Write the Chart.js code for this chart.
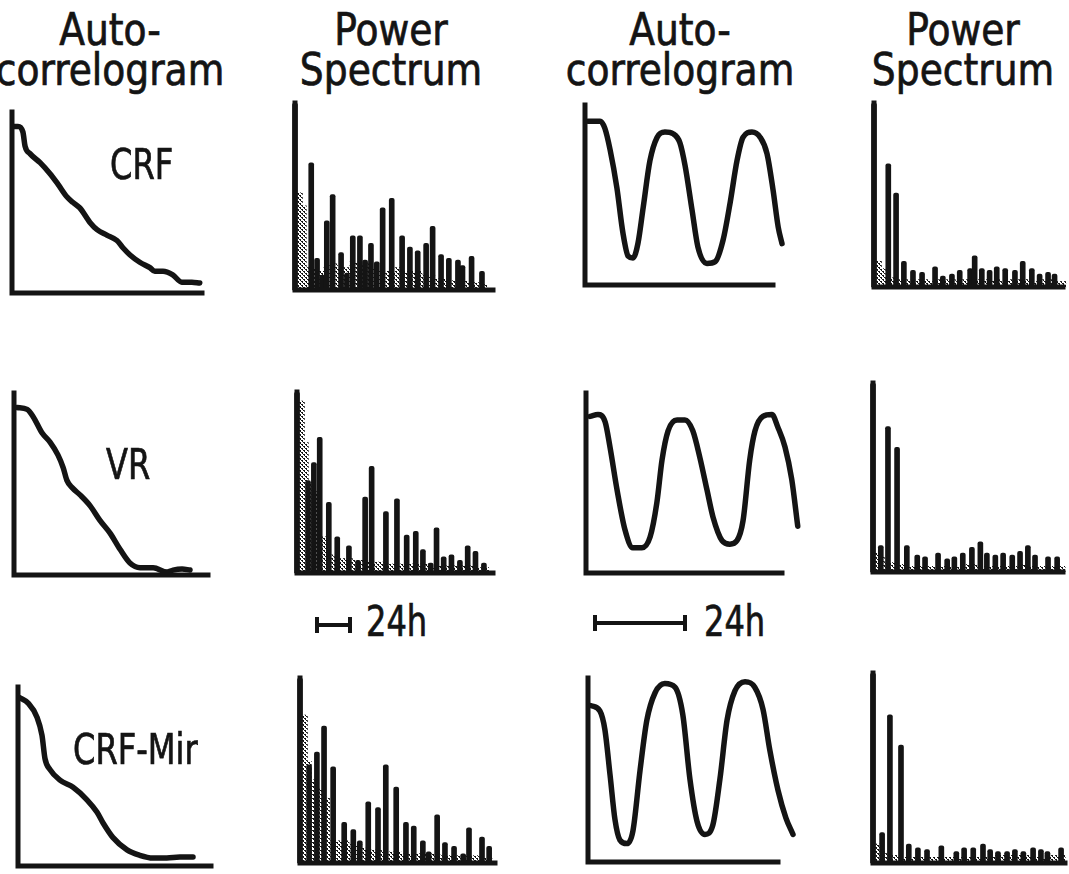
<!DOCTYPE html>
<html><head><meta charset="utf-8">
<script src="https://cdn.jsdelivr.net/npm/chart.js@4/dist/chart.umd.min.js"></script>
<style>
html,body{margin:0;padding:0;background:#fff;}
body{width:1069px;height:874px;position:relative;overflow:hidden;font-family:"DejaVu Sans Condensed","Liberation Sans Narrow","DejaVu Sans",sans-serif;color:#141414;}
canvas{position:absolute;}
.hdr{position:absolute;width:260px;text-align:center;font-size:44px;line-height:40px;white-space:nowrap;transform:scaleX(0.95);transform-origin:50% 0;-webkit-text-stroke:0.7px #141414;}
.lbl{position:absolute;font-size:42px;line-height:42px;white-space:nowrap;z-index:5;transform:scaleX(0.85);transform-origin:0 0;-webkit-text-stroke:0.7px #141414;}
.bar24{position:absolute;height:4px;background:#141414;z-index:5;}
.bar24:before,.bar24:after{content:"";position:absolute;top:-6px;width:4px;height:16px;background:#141414;}
.bar24:before{left:0}.bar24:after{right:0}
</style>
</head><body>
<div class="hdr" style="left:-20px;top:10px">Auto-<br>correlogram</div>
<div class="hdr" style="left:261px;top:10px">Power<br>Spectrum</div>
<div class="hdr" style="left:550px;top:10px">Auto-<br>correlogram</div>
<div class="hdr" style="left:833px;top:10px">Power<br>Spectrum</div>
<div class="lbl" style="left:110px;top:144px">CRF</div>
<div class="lbl" style="left:106px;top:444px">VR</div>
<div class="lbl" style="left:73px;top:729px">CRF-Mir</div>
<div class="bar24" style="left:315px;top:623px;width:37px"></div>
<div class="lbl" style="left:366px;top:601px">24h</div>
<div class="bar24" style="left:593px;top:621px;width:94px"></div>
<div class="lbl" style="left:704px;top:601px">24h</div>
<script>
// ---------- Autocorrelograms, group 1 (lag in hours, normalised correlation) ----------
const crfAcf1Lag = [0.3,1.6,2.9,3.5,4.8,7.5,10.1,12.3,14.7,16.3,18.1,20.8,22.7,25.3,28,29.6,31.5,34.1,36.8,38.1,40.3,42.9,45.3,48,50.1];
const crfAcf1Val = [0.92,0.92,0.89,0.81,0.77,0.72,0.66,0.60,0.53,0.50,0.47,0.39,0.35,0.32,0.29,0.25,0.21,0.17,0.14,0.12,0.12,0.10,0.06,0.06,0.055];
const vrAcf1Lag = [0.8,3.5,5.1,7.5,9.6,11.7,13.1,14.1,15.5,17.6,20.3,22.9,25.6,28.3,30.9,33.6,37.1,40.8,42.4,44.8,46.9];
const vrAcf1Val = [0.92,0.91,0.87,0.78,0.73,0.66,0.59,0.52,0.48,0.44,0.38,0.30,0.23,0.14,0.066,0.04,0.04,0.016,0.027,0.033,0.027];
const mirAcf1Lag = [0.5,2.7,5.1,6.4,7.2,8.5,11.2,14.7,18.4,21.1,22.7,25.3,29.1,32.5,36,39.7,43.2,46.7];
const mirAcf1Val = [0.94,0.91,0.83,0.73,0.60,0.54,0.48,0.44,0.37,0.30,0.24,0.16,0.09,0.06,0.045,0.045,0.05,0.05];

// ---------- Autocorrelograms, group 2 ----------
const crfAcf2Lag = [0.8,4,5.3,6.7,8.5,10.1,11.5,12.8,14.1,15.5,17.3,19.2,21.3,23.5,25.3,26.7,28.5,30.1,32.5,34.7,36.8,38.7,40.5,42.1,44.5,46.7,48.5,50.1,51.5,52.5];
const crfAcf2Val = [0.91,0.91,0.87,0.75,0.54,0.29,0.16,0.15,0.23,0.43,0.69,0.82,0.85,0.84,0.79,0.66,0.42,0.21,0.12,0.13,0.25,0.46,0.69,0.82,0.85,0.82,0.73,0.53,0.32,0.23];
const vrAcf2Lag = [1.1,3.2,5.1,6.4,8.3,10.4,12.5,14.9,17.1,18.9,20.3,21.9,24.3,26.4,28.5,30.4,32.3,33.9,36.3,38.4,40.3,41.9,43.7,45.1,47.2,49.6,51.2,53.1,54.9,56.5];
const vrAcf2Val = [0.87,0.88,0.84,0.70,0.46,0.24,0.14,0.14,0.20,0.39,0.63,0.79,0.85,0.85,0.79,0.64,0.46,0.31,0.18,0.16,0.18,0.29,0.63,0.79,0.87,0.88,0.81,0.70,0.52,0.26];
const mirAcf2Lag = [0.8,3.2,4.5,5.9,7.2,8.5,10.4,12,13.9,15.7,17.9,20.5,23.2,25.3,27.2,29.1,31.2,33.3,35.2,37.1,39.2,41.9,44.5,46.7,48.5,50.7,52.8,54.7];
const mirAcf2Val = [0.85,0.82,0.72,0.47,0.23,0.12,0.10,0.17,0.50,0.77,0.92,0.97,0.95,0.80,0.45,0.22,0.15,0.20,0.45,0.77,0.93,0.98,0.95,0.83,0.61,0.39,0.24,0.15];

// ---------- Power spectra, group 1 (frequency bin, normalised power) ----------
const crfSpec1Freq = [0,2.5,3.4,4.2,4.9,5.8,7.1,8.0,8.9,10.0,10.8,11.7,12.6,13.5,14.9,16.5,17.7,18.9,20.2,21.2,22.5,23.7,25.1,25.8,27.2,28.8];
const crfSpec1Pow  = [1.00,0.68,0.17,0.08,0.37,0.51,0.20,0.09,0.29,0.29,0.16,0.25,0.15,0.44,0.49,0.29,0.23,0.21,0.25,0.34,0.19,0.17,0.16,0.13,0.18,0.10];
const noiseFreq = [0.6,1.2,2,3,4,5,6,7,8,9,10,11,12,13,14,15,16,17,18,19,20,21,22,23,24,25,26,27,28,29];
const crfSpec1Noise = [0.52,0.45,0.12,0.12,0.10,0.13,0.14,0.12,0.12,0.15,0.13,0.14,0.12,0.10,0.10,0.10,0.12,0.10,0.10,0.10,0.08,0.08,0.06,0.06,0.05,0.05,0.05,0.04,0.04,0.03];
const vrSpec1Freq = [0,1.7,2.6,3.5,4.9,6.2,8,9.4,10.5,11.5,13.7,15.4,16.9,18.3,19.4,20.6,21.5,22.6,23.8,25.1,26.3,27.5,28.8];
const vrSpec1Pow  = [1.0,0.51,0.61,0.75,0.39,0.20,0.15,0.07,0.42,0.59,0.34,0.41,0.21,0.23,0.13,0.055,0.25,0.09,0.10,0.07,0.15,0.12,0.055];
const vrSpec1Noise = [0.95,0.72,0.50,0.45,0.20,0.10,0.09,0.08,0.08,0.07,0.07,0.06,0.06,0.06,0.05,0.05,0.05,0.05,0.05,0.05,0.05,0.04,0.04,0.04,0.04,0.04,0.04,0.04,0.03,0.03];
const mirSpec1Freq = [0,1.4,2.6,3.7,5.1,6.8,8.2,9.2,10.5,12,13.2,14.8,16.3,17.5,18.9,19.8,21.1,22.3,23.7,25.1,26,28,29.1];
const mirSpec1Pow  = [1.0,0.53,0.60,0.74,0.52,0.22,0.18,0.12,0.33,0.30,0.53,0.41,0.22,0.20,0.12,0.06,0.26,0.11,0.09,0.05,0.19,0.14,0.09];
const mirSpec1Noise = [0.80,0.55,0.45,0.40,0.35,0.12,0.12,0.12,0.10,0.10,0.08,0.07,0.07,0.06,0.06,0.06,0.05,0.05,0.05,0.05,0.05,0.05,0.04,0.04,0.04,0.04,0.04,0.04,0.03,0.03];

// ---------- Power spectra, group 2 ----------
const crfSpec2Freq = [0,2.2,3.4,4.6,6,7.4,9.4,10.6,12,13.2,14.8,15.5,16.6,17.8,18.9,20.2,21.7,22.9,24.3,25.5,26.8,27.8];
const crfSpec2Pow  = [1.0,0.67,0.51,0.14,0.09,0.08,0.11,0.06,0.07,0.09,0.10,0.17,0.10,0.09,0.11,0.10,0.09,0.14,0.10,0.07,0.08,0.07];
const crfSpec2Noise = [0.14,0.10,0.05,0.05,0.04,0.04,0.03,0.04,0.04,0.03,0.04,0.04,0.04,0.03,0.04,0.05,0.04,0.04,0.04,0.04,0.03,0.04,0.04,0.04,0.04,0.03,0.04,0.04,0.03,0.03];
const vrSpec2Freq = [0,1.2,2.3,3.7,5.2,6.8,8,10,11.4,12.5,13.8,15.2,16.5,17.5,18.8,20,21.4,22.6,23.8,24.9,26.9,28.3];
const vrSpec2Pow  = [1.0,0.14,0.77,0.66,0.14,0.09,0.08,0.10,0.07,0.08,0.10,0.13,0.16,0.10,0.09,0.10,0.09,0.11,0.14,0.09,0.08,0.08];
const vrSpec2Noise = [0.10,0.08,0.05,0.05,0.04,0.04,0.03,0.03,0.03,0.03,0.03,0.03,0.03,0.03,0.04,0.04,0.04,0.03,0.03,0.03,0.03,0.03,0.03,0.04,0.03,0.03,0.03,0.03,0.03,0.03];
const mirSpec2Freq = [0,1.4,2.6,4.3,5.5,6.9,8.3,10.5,12.8,14,15.4,16.9,18,19.2,20.6,21.8,23.1,24.6,25.8,26.8,28.9];
const mirSpec2Pow  = [1.0,0.16,0.78,0.62,0.10,0.08,0.07,0.09,0.06,0.08,0.08,0.10,0.07,0.06,0.06,0.07,0.06,0.08,0.07,0.06,0.08];
const mirSpec2Noise = [0.10,0.07,0.05,0.04,0.04,0.03,0.03,0.03,0.03,0.03,0.03,0.03,0.03,0.03,0.03,0.03,0.03,0.03,0.03,0.04,0.04,0.04,0.04,0.04,0.04,0.03,0.03,0.04,0.04,0.04];

// ---------- Layout (axis rectangle: left, top, right end of x-axis, bottom) ----------
const panels = [
  {kind:'acf',  rect:[12,112,202,293],  xMax:50.7, xs:crfAcf1Lag, ys:crfAcf1Val},
  {kind:'spec', rect:[295,103,493,290], xMax:30.5, xs:crfSpec1Freq, ys:crfSpec1Pow, noise:crfSpec1Noise},
  {kind:'acf',  rect:[585,105,773,285], xMax:50.1, xs:crfAcf2Lag, ys:crfAcf2Val},
  {kind:'spec', rect:[874,103,1063,287],xMax:29.1, xs:crfSpec2Freq, ys:crfSpec2Pow, noise:crfSpec2Noise},
  {kind:'acf',  rect:[14,393,208,575],  xMax:51.7, xs:vrAcf1Lag, ys:vrAcf1Val},
  {kind:'spec', rect:[297,392,493,573], xMax:30.2, xs:vrSpec1Freq, ys:vrSpec1Pow, noise:vrSpec1Noise},
  {kind:'acf',  rect:[586,393,782,573], xMax:52.3, xs:vrAcf2Lag, ys:vrAcf2Val},
  {kind:'spec', rect:[873,383,1063,572],xMax:29.2, xs:vrSpec2Freq, ys:vrSpec2Pow, noise:vrSpec2Noise},
  {kind:'acf',  rect:[18,687,211,866],  xMax:51.5, xs:mirAcf1Lag, ys:mirAcf1Val},
  {kind:'spec', rect:[300,678,495,863], xMax:30.0, xs:mirSpec1Freq, ys:mirSpec1Pow, noise:mirSpec1Noise},
  {kind:'acf',  rect:[588,678,778,862], xMax:50.7, xs:mirAcf2Lag, ys:mirAcf2Val},
  {kind:'spec', rect:[873,673,1065,863],xMax:29.5, xs:mirSpec2Freq, ys:mirSpec2Pow, noise:mirSpec2Noise}
];

const INK = '#141414';
function stipplePattern(){
  const c = document.createElement('canvas'); c.width = 4; c.height = 4;
  const g = c.getContext('2d'); g.fillStyle = INK;
  g.fillRect(0,0,2,1); g.fillRect(2,2,2,1); g.fillRect(1,1,1,1); g.fillRect(3,3,1,1);
  return g.createPattern(c,'repeat');
}

const axesPlugin = {
  id:'axesL',
  afterDatasetsDraw(chart){
    const {ctx, chartArea:a, scales:{x}} = chart;
    const end = chart.options.plugins.axesL.axisEnd;
    ctx.save();
    ctx.strokeStyle = INK; ctx.lineWidth = 5; ctx.lineCap = 'square'; ctx.lineJoin = 'miter';
    ctx.beginPath();
    ctx.moveTo(a.left, a.top);
    ctx.lineTo(a.left, a.bottom);
    ctx.lineTo(x.getPixelForValue(end), a.bottom);
    ctx.stroke();
    ctx.restore();
  }
};

const PAD = {left:8, right:10, top:8, bottom:8};
panels.forEach(p => {
  const [L,T,R,B] = p.rect;
  // the curve may run past the end of the drawn x-axis: widen the scale to hold all data
  const lastX = p.xs[p.xs.length - 1];
  const scaleMax = Math.max(p.xMax, lastX);
  const plotW = (R - L) * scaleMax / p.xMax;
  const cv = document.createElement('canvas');
  const w = Math.round(plotW + PAD.left + PAD.right), h = B - T + PAD.top + PAD.bottom;
  cv.width = w; cv.height = h;
  cv.style.left = (L - PAD.left) + 'px'; cv.style.top = (T - PAD.top) + 'px';
  cv.style.width = w + 'px'; cv.style.height = h + 'px';
  document.body.appendChild(cv);
  const pad = {left:PAD.left, top:PAD.top, bottom:PAD.bottom, right: w - PAD.left - plotW};
  let datasets;
  if (p.kind === 'acf') {
    datasets = [{
      type:'line', data: p.xs.map((x,i)=>({x, y:p.ys[i]})),
      borderColor: INK, borderWidth: 5.5, pointRadius: 0, fill: false,
      tension: 0.4, cubicInterpolationMode: 'monotone', clip: false,
      borderCapStyle: 'round', borderJoinStyle: 'round'
    }];
  } else {
    datasets = [{
      type:'bar', data: p.xs.map((x,i)=>({x, y:p.ys[i]})),
      backgroundColor: INK, barThickness: 5, grouped: false, clip: false,
      borderRadius: {topLeft:2, topRight:2, bottomLeft:0, bottomRight:0}, borderSkipped: 'bottom'
    },{
      type:'bar', data: noiseFreq.map((x,i)=>({x, y:p.noise[i]})),
      backgroundColor: stipplePattern(), barThickness: 7, grouped: false, clip: false
    }];
  }
  new Chart(cv, {
    type: p.kind === 'acf' ? 'line' : 'bar',
    data: {datasets},
    options: {
      responsive:false, animation:false, devicePixelRatio:1,
      layout:{padding:pad},
      plugins:{legend:{display:false}, tooltip:{enabled:false}, axesL:{axisEnd:p.xMax}},
      scales:{
        x:{type:'linear', display:false, min:0, max:scaleMax, offset:false},
        y:{display:false, min:0, max:1}
      }
    },
    plugins:[axesPlugin]
  });
});
</script>
</body></html>
